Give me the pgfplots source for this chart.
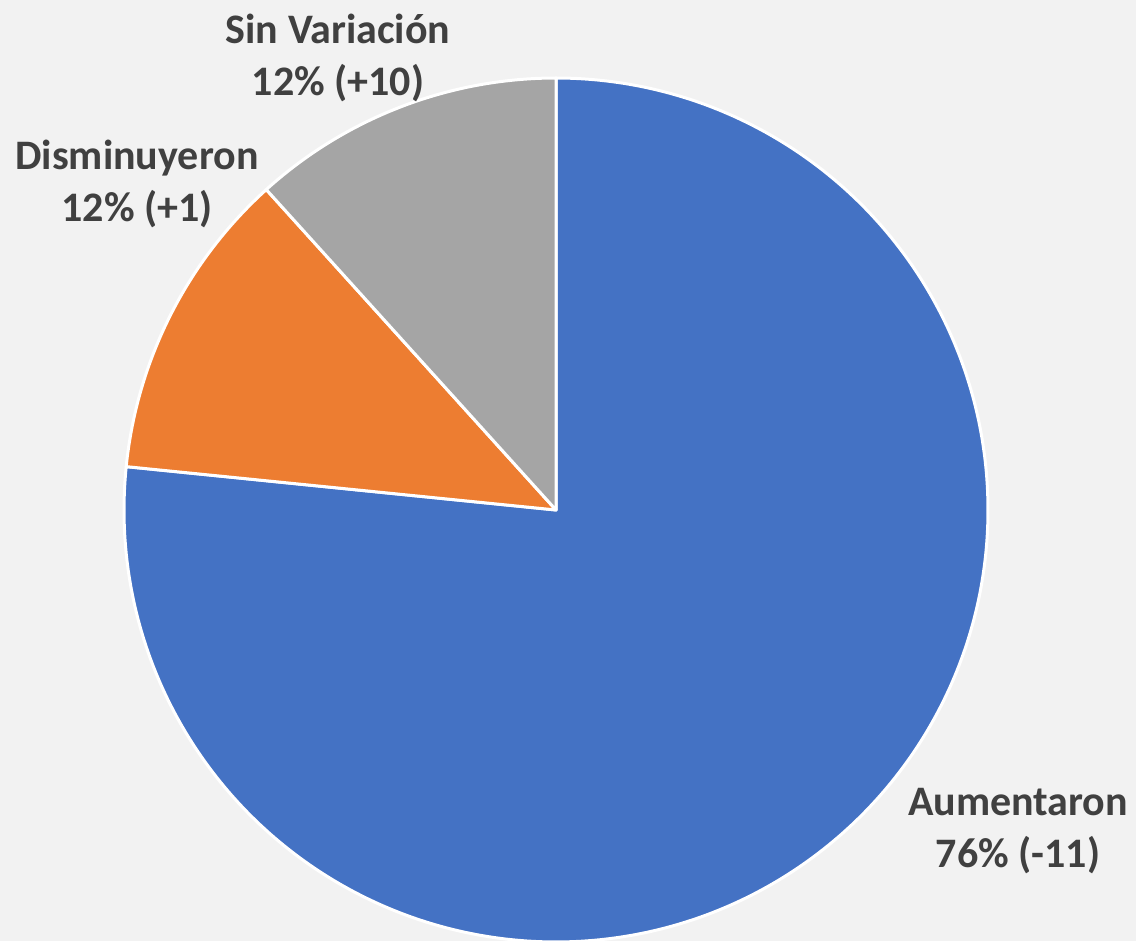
\documentclass[border=0pt]{standalone}
\usepackage{pgfplots}
\usepackage{pgfplotstable}
\pgfplotsset{compat=1.18}
\usepackage{fontspec}
\setmainfont{Carlito}
\definecolor{cBlue}{HTML}{4472C4}
\definecolor{cOrange}{HTML}{ED7D31}
\definecolor{cGray}{HTML}{A5A5A5}
\definecolor{cBg}{HTML}{F2F2F2}
\definecolor{cText}{HTML}{404040}
\pgfplotstableread{
name value
Aumentaron 76.6
Disminuyeron 11.7
SinVariacion 11.7
}\piedata
\begin{document}
\begin{tikzpicture}
\pgfplotstablegetelem{0}{value}\of\piedata \let\vA\pgfplotsretval
\pgfplotstablegetelem{1}{value}\of\piedata \let\vB\pgfplotsretval
\pgfplotstablegetelem{2}{value}\of\piedata \let\vC\pgfplotsretval
\pgfmathsetmacro{\aA}{90-3.6*\vA}
\pgfmathsetmacro{\aB}{\aA-3.6*\vB}
\pgfmathsetmacro{\aC}{\aB-3.6*\vC}
\begin{axis}[
  width=568pt, height=470.5pt, scale only axis,
  xmin=0, xmax=1136, ymin=0, ymax=941, y dir=reverse,
  hide axis, clip=false,
]
\fill[cBg] (rel axis cs:0,0) rectangle (rel axis cs:1,1);
\addplot[fill=cBlue, draw=white, line width=1.5pt, line join=round, domain=\aA:90, samples=400, variable=\t]
  ({556+432*cos(\t)},{510-432*sin(\t)}) -- (axis cs:556,510) -- cycle;
\addplot[fill=cOrange, draw=white, line width=1.5pt, line join=round, domain=\aB:\aA, samples=100, variable=\t]
  ({556+432*cos(\t)},{510-432*sin(\t)}) -- (axis cs:556,510) -- cycle;
\addplot[fill=cGray, draw=white, line width=1.5pt, line join=round, domain=\aC:\aB, samples=100, variable=\t]
  ({556+432*cos(\t)},{510-432*sin(\t)}) -- (axis cs:556,510) -- cycle;
\tikzset{lab/.style={font=\fontsize{21pt}{26pt}\selectfont\bfseries, text=cText, align=center, inner sep=0pt}}
\node[lab] at (axis cs:338,58) {Sin Variación\\12\% (+10)};
\node[lab] at (axis cs:137,184) {Disminuyeron\\12\% (+1)};
\node[lab] at (axis cs:1018,831) {Aumentaron\\76\% (-11)};
\end{axis}
\end{tikzpicture}
\end{document}
